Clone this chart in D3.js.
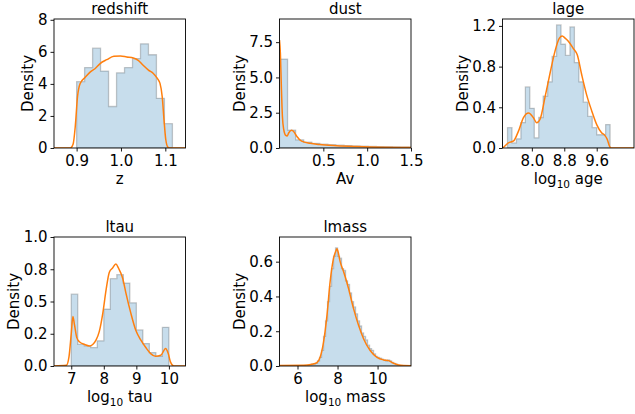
<!DOCTYPE html>
<html><head><meta charset="utf-8">
<script src="https://cdn.jsdelivr.net/npm/d3@7"></script>
<style>
body{margin:0;background:#fff}
svg{display:block}
text{font-family:"DejaVu Sans",sans-serif;fill:#000}
</style>
</head><body>
<svg id="c" width="635" height="414"></svg>
<script>
// ---------- data ----------
const titles = ["redshift", "dust", "lage", "ltau", "lmass"];
const xLabels = ["z", "Av", "age", "tau", "mass"];           // "log10" prefix for the last three
const useLog10 = [false, false, true, true, true];

// histogram bins: start, width, densities
const redshiftBin = [0.9, 0.018];
const redshiftHist = [4.14, 5.02, 6.23, 4.8, 2.59, 4.69, 5.02, 5.58, 6.5, 5.82, 3.1, 1.52];
const dustBin = [0, 0.092];
const dustHist = [6.3, 1.27, 0.58, 0.42, 0.33, 0.27, 0.23, 0.2, 0.17, 0.15, 0.13, 0.11, 0.1, 0.09, 0.08, 0.07, 0.06];
const lageBin = [7.40, 0.11];
const lageHist = [0.2, 0.05, 0.09, 0.25, 0.6, 0.39, 0.1, 0.3, 0.51, 0.65, 0.9, 1.21, 1.02, 0.91, 1.19, 0.84, 0.65, 0.45, 0.31, 0.2, 0.13, 0.13, 0.23];
const ltauBin = [7.0, 0.2];
const ltauHist = [0.557, 0.167, 0.156, 0.143, 0.195, 0.44, 0.677, 0.708, 0.643, 0.49, 0.28, 0.174, 0.104, 0.075, 0.30];
const lmassBin = [6.5, 0.1];
const lmassHist = [0.005, 0.005, 0.01, 0.012, 0.015, 0.03, 0.05, 0.09, 0.17, 0.26, 0.37, 0.46, 0.56, 0.63, 0.68, 0.63, 0.62, 0.56, 0.55, 0.49, 0.47, 0.42, 0.37, 0.34, 0.30, 0.26, 0.23, 0.19, 0.17, 0.15, 0.12, 0.10, 0.09, 0.07, 0.055, 0.05, 0.045, 0.04, 0.035, 0.03, 0.035, 0.03, 0.02, 0.015, 0.01, 0.005];

// KDE curves (x, density)
const redshiftKdeX = [0.849, 0.886, 0.892, 0.897, 0.902, 0.908, 0.919, 0.931, 0.942, 0.953, 0.968, 0.984, 0.999, 1.013, 1.028, 1.039, 1.05, 1.062, 1.073, 1.082, 1.088, 1.093, 1.097, 1.101, 1.106, 1.109, 1.1455];
const redshiftKdeY = [0, 0, 0.23, 1.36, 3.2, 4.03, 4.4, 4.75, 4.96, 5.27, 5.51, 5.72, 5.74, 5.68, 5.62, 5.47, 5.16, 4.86, 4.65, 4.34, 4.03, 3.21, 1.77, 0.53, 0.04, 0, 0];
const dustKdeX = [0, 0.01, 0.021, 0.033, 0.048, 0.071, 0.087, 0.106, 0.137, 0.164, 0.194, 0.252, 0.35, 0.46, 0.65, 0.88, 1.15, 1.5];
const dustKdeY = [7.64, 6.73, 4.38, 2.26, 1.32, 0.89, 0.85, 1.08, 1.25, 1.15, 0.85, 0.49, 0.33, 0.24, 0.16, 0.1, 0.05, 0.03];
const lageKdeX = [7.276, 7.30, 7.42, 7.55, 7.67, 7.79, 7.92, 8.04, 8.12, 8.2, 8.33, 8.45, 8.57, 8.68, 8.75, 8.82, 8.9, 9.02, 9.12, 9.23, 9.35, 9.48, 9.6, 9.72, 9.8, 9.86, 9.93, 9.97, 10.52];
const lageKdeY = [0.0, 0.007, 0.05, 0.07, 0.166, 0.297, 0.345, 0.297, 0.248, 0.28, 0.51, 0.737, 0.95, 1.08, 1.1, 1.08, 1.05, 0.98, 0.916, 0.72, 0.525, 0.362, 0.23, 0.15, 0.124, 0.085, 0.007, 0, 0];
const ltauKdeX = [6.47, 6.85, 6.93, 7.0, 7.05, 7.1, 7.17, 7.25, 7.41, 7.56, 7.66, 7.76, 7.86, 7.97, 8.07, 8.17, 8.27, 8.37, 8.45, 8.58, 8.68, 8.83, 8.98, 9.14, 9.29, 9.44, 9.59, 9.75, 9.9, 9.98, 10.05, 10.15, 10.51];
const ltauKdeY = [0, 0.005, 0.07, 0.25, 0.383, 0.318, 0.22, 0.188, 0.167, 0.156, 0.167, 0.2, 0.266, 0.41, 0.59, 0.727, 0.76, 0.79, 0.76, 0.68, 0.565, 0.41, 0.279, 0.2, 0.143, 0.096, 0.075, 0.083, 0.135, 0.096, 0.03, 0, 0];
const lmassKdeX = [5.1, 6.3, 6.72, 6.97, 7.13, 7.3, 7.47, 7.63, 7.8, 7.92, 7.97, 8.02, 8.13, 8.3, 8.55, 8.8, 9.05, 9.3, 9.63, 9.97, 10.3, 10.55, 10.8, 11.05, 11.67];
const lmassKdeY = [0.003, 0.004, 0.01, 0.02, 0.05, 0.137, 0.29, 0.485, 0.62, 0.663, 0.675, 0.66, 0.6, 0.543, 0.446, 0.33, 0.234, 0.157, 0.089, 0.05, 0.035, 0.031, 0.016, 0.006, 0.002];

// axis limits and ticks
const xLimits = [[0.849, 1.1455], [0, 1.5], [7.276, 10.52], [6.47, 10.51], [5.1, 11.67]];
const yLimits = [[0, 8.05], [0, 9.14], [0, 1.268], [0, 1.0], [0, 0.742]];
const xTickValues = [[0.9, 1.0, 1.1], [0.5, 1.0, 1.5], [8.0, 8.8, 9.6], [7, 8, 9, 10], [6, 8, 10]];
const xTickLabels = [["0.9", "1.0", "1.1"], ["0.5", "1.0", "1.5"], ["8.0", "8.8", "9.6"], ["7", "8", "9", "10"], ["6", "8", "10"]];
const yTickValues = [[0, 2, 4, 6, 8], [0, 2.5, 5, 7.5], [0, 0.4, 0.8, 1.2], [0, 0.25, 0.5, 0.75, 1.0], [0, 0.2, 0.4, 0.6]];
const yTickLabels = [["0", "2", "4", "6", "8"], ["0.0", "2.5", "5.0", "7.5"], ["0.0", "0.4", "0.8", "1.2"], ["0.0", "0.2", "0.5", "0.8", "1.0"], ["0.0", "0.2", "0.4", "0.6"]];

const bins = [redshiftBin, dustBin, lageBin, ltauBin, lmassBin];
const hists = [redshiftHist, dustHist, lageHist, ltauHist, lmassHist];
const kdeXs = [redshiftKdeX, dustKdeX, lageKdeX, ltauKdeX, lmassKdeX];
const kdeYs = [redshiftKdeY, dustKdeY, lageKdeY, ltauKdeY, lmassKdeY];

// ---------- layout ----------
const colX = [54, 279.5, 502.5];
const rowY = [19, 237];
const W = 131.5, H = 129;
const FS = 15;

const svg = d3.select("#c");
const defs = svg.append("defs");

titles.forEach((title, i) => {
  const col = i % 3, row = Math.floor(i / 3);
  const x0 = colX[col], y0 = rowY[row];
  const g = svg.append("g").attr("transform", `translate(${x0},${y0})`);
  const x = d3.scaleLinear().domain(xLimits[i]).range([0, W]);
  const y = d3.scaleLinear().domain(yLimits[i]).range([H, 0]);

  defs.append("clipPath").attr("id", "clip" + i)
    .append("rect").attr("width", W).attr("height", H);
  const plot = g.append("g").attr("clip-path", `url(#clip${i})`);

  // histogram (stepfilled)
  const [start, width] = bins[i];
  const pts = [[start, 0]];
  hists[i].forEach((v, k) => {
    const a = start + k * width;
    pts.push([a, v], [a + width, v]);
  });
  pts.push([start + hists[i].length * width, 0]);
  const line = d3.line().x(d => x(d[0])).y(d => y(d[1]));
  plot.append("path").attr("d", line(pts) + "Z")
    .attr("fill", "#1f77b4").attr("fill-opacity", 0.25)
    .attr("stroke", "#000").attr("stroke-opacity", 0.2).attr("stroke-width", 1.3);

  // kde
  const kpts = kdeXs[i].map((xv, k) => [xv, kdeYs[i][k]]);
  plot.append("path").attr("d", d3.line().x(d => x(d[0])).y(d => y(d[1])).curve(d3.curveMonotoneX)(kpts))
    .attr("fill", "none").attr("stroke", "#ff7f0e").attr("stroke-width", 1.5);

  // axes
  const xa = g.append("g").attr("transform", `translate(0,${H})`)
    .call(d3.axisBottom(x).tickValues(xTickValues[i]).tickFormat((d, k) => xTickLabels[i][k]).tickSize(3.5).tickPadding(4));
  const ya = g.append("g")
    .call(d3.axisLeft(y).tickValues(yTickValues[i]).tickFormat((d, k) => yTickLabels[i][k]).tickSize(3.5).tickPadding(3));
  [xa, ya].forEach(a => {
    a.select(".domain").remove();
    a.selectAll("line").attr("stroke", "#000").attr("stroke-width", 0.9);
    a.selectAll("text").attr("font-size", FS).attr("font-family", '"DejaVu Sans", sans-serif').attr("fill", "#000");
  });

  // frame
  g.append("rect").attr("width", W).attr("height", H)
    .attr("fill", "none").attr("stroke", "#000").attr("stroke-width", 0.9);

  // title
  g.append("text").attr("x", W / 2).attr("y", -5).attr("text-anchor", "middle")
    .attr("font-size", FS).text(title);

  // x label
  const xl = g.append("text").attr("x", W / 2).attr("y", H + 36).attr("text-anchor", "middle").attr("font-size", FS);
  if (useLog10[i]) {
    xl.append("tspan").text("log");
    xl.append("tspan").attr("font-size", FS * 0.7).attr("dy", 3.5).text("10");
    xl.append("tspan").attr("dy", -3.5).text("\u00a0" + xLabels[i]);
  } else {
    xl.text(xLabels[i]);
  }

  // y label, placed left of the widest tick label (bbox x is in tick-group coords, tick groups sit at x=0)
  let minX = 0;
  ya.selectAll("text").each(function () {
    minX = Math.min(minX, this.getBBox().x);
  });
  g.append("text").attr("transform", `translate(${minX - 4.5},${H / 2}) rotate(-90)`)
    .attr("text-anchor", "middle").attr("font-size", FS).text("Density");
});
</script>
</body></html>
